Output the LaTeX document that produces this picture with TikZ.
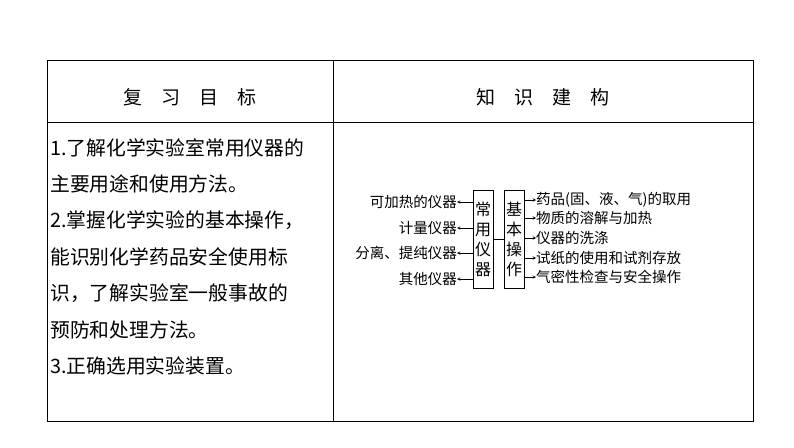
\documentclass[tikz,border=0pt]{standalone}
\usepackage{fontspec}
\newfontfamily\cjk{Noto Sans CJK SC}
\begin{document}
\begin{tikzpicture}[x=1pt,y=-1pt,
 every node/.style={font=\cjk},
 big/.style={font=\cjk\fontsize{19.8}{19.8}\selectfont,anchor=west,inner sep=0},
 small/.style={font=\cjk\fontsize{14.5}{14.5}\selectfont,inner sep=0},
 vbox/.style={draw,line width=0.6pt,minimum width=20pt,minimum height=98pt,inner sep=0,font=\cjk\fontsize{16}{20}\selectfont,align=center},
 arr/.style={-stealth,line width=0.5pt}]
\useasboundingbox (0,0) rectangle (794,447);
\draw[line width=1pt] (47,60) rectangle (753,421);
\draw[line width=0.8pt] (47,122) -- (753,122) (333,60) -- (333,421);
\node[font=\cjk\fontsize{19}{19}\selectfont] at (190,97) {复\hspace{1em}习\hspace{1em}目\hspace{1em}标};
\node[font=\cjk\fontsize{19}{19}\selectfont] at (543,97) {知\hspace{1em}识\hspace{1em}建\hspace{1em}构};
\node[big] at (50,148) {1.了解化学实验室常用仪器的};
\node[big] at (50,184) {主要用途和使用方法。};
\node[big] at (50,220) {2.掌握化学实验的基本操作，};
\node[big] at (50,257) {能识别化学药品安全使用标};
\node[big] at (50,293) {识，了解实验室一般事故的};
\node[big] at (50,330) {预防和处理方法。};
\node[big] at (50,366) {3.正确选用实验装置。};
\node[vbox] (A) at (483,239) {常\\用\\仪\\器};
\node[vbox] (B) at (514,239) {基\\本\\操\\作};
\draw[line width=0.5pt] (A.east) -- (B.west);
\foreach \y/\t [count=\i] in {202/可加热的仪器,228/计量仪器,253/分离、提纯仪器,279/其他仪器}{
 \coordinate (s\i) at (473,\y);
 \node[small,anchor=east] (l\i) at (457,\y) {\t};
 \draw[arr] (s\i) -- (l\i.east);
}
\foreach \y/\t [count=\i] in {200/药品(固、液、气)的取用,218/物质的溶解与加热,238/仪器的洗涤,258/试纸的使用和试剂存放,277/气密性检查与安全操作}{
 \coordinate (t\i) at (524,\y);
 \node[small,anchor=west] (r\i) at (536,\y) {\t};
 \draw[arr] (t\i) -- (r\i.west);
}
\end{tikzpicture}
\end{document}
